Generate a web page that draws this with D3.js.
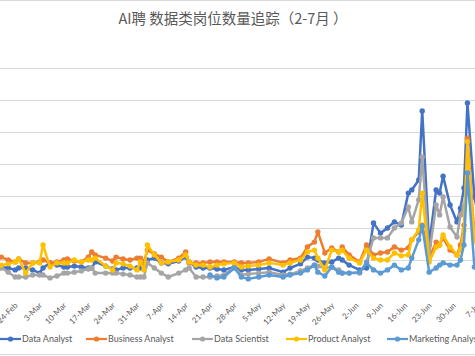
<!DOCTYPE html>
<html><head><meta charset="utf-8">
<script src="https://cdn.jsdelivr.net/npm/d3@7"></script>
<style>html,body{margin:0;padding:0;background:#fff;overflow:hidden}</style>
</head><body>
<svg id="c" width="475" height="356"></svg>
<script>
const dates = ["2019-02-19","2019-02-21","2019-02-23","2019-02-24","2019-02-26","2019-02-28","2019-03-02","2019-03-03","2019-03-05","2019-03-07","2019-03-09","2019-03-10","2019-03-12","2019-03-14","2019-03-16","2019-03-17","2019-03-18","2019-03-21","2019-03-23","2019-03-24","2019-03-26","2019-03-28","2019-03-30","2019-03-31","2019-04-01","2019-04-02","2019-04-04","2019-04-06","2019-04-08","2019-04-11","2019-04-13","2019-04-14","2019-04-16","2019-04-18","2019-04-20","2019-04-22","2019-04-24","2019-04-27","2019-04-29","2019-05-01","2019-05-04","2019-05-07","2019-05-11","2019-05-13","2019-05-16","2019-05-18","2019-05-20","2019-05-21","2019-05-23","2019-05-25","2019-05-27","2019-05-28","2019-05-30","2019-06-02","2019-06-04","2019-06-06","2019-06-08","2019-06-10","2019-06-12","2019-06-14","2019-06-16","2019-06-17","2019-06-19","2019-06-20","2019-06-22","2019-06-24","2019-06-25","2019-06-26","2019-06-28","2019-06-30","2019-07-01","2019-07-02","2019-07-03","2019-07-05","2019-07-07"];

const dataAnalyst = [78,75,69,75,75,69,59,75,91,84,78,78,81,78,75,75,94,81,72,69,75,75,75,75,81,100,106,91,88,97,109,94,78,75,75,72,69,78,69,69,72,75,62,75,88,109,106,100,91,94,106,100,84,69,75,216,184,200,219,209,309,319,350,566,147,319,309,362,272,219,262,325,591,297,194];
const businessAnalyst = [109,100,94,103,91,91,94,100,91,94,100,103,97,94,109,125,116,106,97,109,103,100,106,106,94,131,119,109,94,106,125,91,91,91,94,94,94,94,91,91,94,103,91,100,106,141,156,188,122,138,125,141,116,94,147,116,122,125,141,131,138,163,188,209,106,156,147,169,131,116,147,209,481,178,116];
const dataScientist = [75,62,47,47,47,53,53,53,44,50,59,59,62,66,72,75,59,59,59,59,56,53,47,47,47,91,75,59,47,59,69,75,47,47,47,50,53,78,53,56,59,62,53,56,66,75,84,81,75,78,69,59,59,59,94,169,169,169,200,216,266,219,288,422,116,272,241,297,203,172,241,266,328,194,131];
const productAnalyst = [84,88,94,103,59,91,91,147,78,91,91,91,100,94,100,100,106,81,69,91,88,81,69,94,69,147,116,91,94,100,116,94,84,84,78,84,88,91,78,81,84,91,84,91,100,125,131,106,69,131,125,131,106,91,131,106,100,100,122,113,116,163,194,309,94,141,147,178,141,116,131,194,470,163,100];
const marketingAnalyst = [null,null,null,null,null,null,null,null,null,null,null,null,null,null,null,null,null,null,null,null,null,null,null,null,null,null,null,null,null,null,null,null,null,null,53,44,47,75,47,41,47,53,47,53,59,69,84,62,50,78,62,59,59,62,91,69,59,69,84,69,75,106,163,206,62,75,84,91,84,84,100,147,372,78,53];

const seriesNames = ["Data Analyst","Business Analyst","Data Scientist","Product Analyst","Marketing Analyst"];
const seriesValues = [dataAnalyst, businessAnalyst, dataScientist, productAnalyst, marketingAnalyst];
const seriesColors = ["#4472C4","#ED7D31","#A5A5A5","#FFC000","#5B9BD5"];
const tickDates = ["2019-02-24","2019-03-03","2019-03-10","2019-03-17","2019-03-24","2019-03-31","2019-04-07","2019-04-14","2019-04-21","2019-04-28","2019-05-05","2019-05-12","2019-05-19","2019-05-26","2019-06-02","2019-06-09","2019-06-16","2019-06-23","2019-06-30","2019-07-07"];
const yTicks = [0,100,200,300,400,500,600,700];
const title = "AI聘 数据类岗位数量追踪（2-7月 ）";

const parse = d3.utcParse("%Y-%m-%d");
const fmt = d3.utcFormat("%-d-%b");
const svg = d3.select("#c");
const W = 475, H = 356;

svg.append("rect").attr("x",-10).attr("y",0.5).attr("width",W+20).attr("height",H-2)
  .attr("fill","#fff").attr("stroke","#d9d9d9").attr("stroke-width",1);

const x = d3.scaleUtc().domain([parse("2019-02-24"), parse("2019-06-30")]).range([18.7, 457]);
const y = d3.scaleLinear().domain([0,700]).range([292, 68]);

// gridlines
svg.append("g").selectAll("line").data(yTicks.slice(1)).join("line")
  .attr("x1",0).attr("x2",W).attr("y1",d=>Math.round(y(d))+0.5).attr("y2",d=>Math.round(y(d))+0.5)
  .attr("stroke","#d9d9d9").attr("stroke-width",1);

// x axis
const xAxis = d3.axisBottom(x).tickValues(tickDates.map(parse)).tickFormat(fmt).tickSize(0).tickPadding(0);
const gx = svg.append("g").attr("transform","translate(0,292)").call(xAxis);
gx.select(".domain").attr("stroke","#d9d9d9").attr("d","M0,0.5H"+W);
gx.selectAll("text").attr("fill","#595959").attr("font-family","Lato, 'Liberation Sans', sans-serif")
  .attr("font-size","8px").attr("text-anchor","end").attr("dy",null).attr("y",null)
  .attr("transform","translate(-1,14) rotate(-45)");

// lines
const line = d3.line().defined(d=>d.v!=null).x(d=>x(d.t)).y(d=>y(d.v));
seriesValues.forEach((vals,i)=>{
  const pts = dates.map((d,j)=>({t:parse(d), v:vals[j]}));
  const g = svg.append("g");
  g.append("path").datum(pts).attr("d",line).attr("fill","none")
    .attr("stroke",seriesColors[i]).attr("stroke-width",2.5).attr("stroke-linejoin","round");
  g.selectAll("circle").data(pts.filter(p=>p.v!=null)).join("circle")
    .attr("cx",p=>x(p.t)).attr("cy",p=>y(p.v)).attr("r",2.7).attr("fill",seriesColors[i]);
});

// title
svg.append("text").attr("x",233).attr("y",24).attr("text-anchor","middle")
  .attr("font-family","'Noto Sans CJK SC', sans-serif").attr("font-size","14.5px").attr("fill","#595959")
  .text(title);

// legend
const legX = [0, 86, 192, 286, 387];
const lg = svg.append("g").attr("transform","translate(0,339)");
seriesNames.forEach((n,i)=>{
  const g = lg.append("g").attr("transform",`translate(${legX[i]},0)`);
  g.append("line").attr("x1",0).attr("x2",21).attr("y1",0).attr("y2",0).attr("stroke",seriesColors[i]).attr("stroke-width",2.25);
  g.append("circle").attr("cx",10.5).attr("cy",0).attr("r",2.6).attr("fill",seriesColors[i]);
  g.append("text").attr("x",22).attr("y",3.3).attr("font-family","Lato, 'Liberation Sans', sans-serif")
    .attr("font-size","9px").attr("fill","#595959").text(n);
});
</script>
</body></html>
